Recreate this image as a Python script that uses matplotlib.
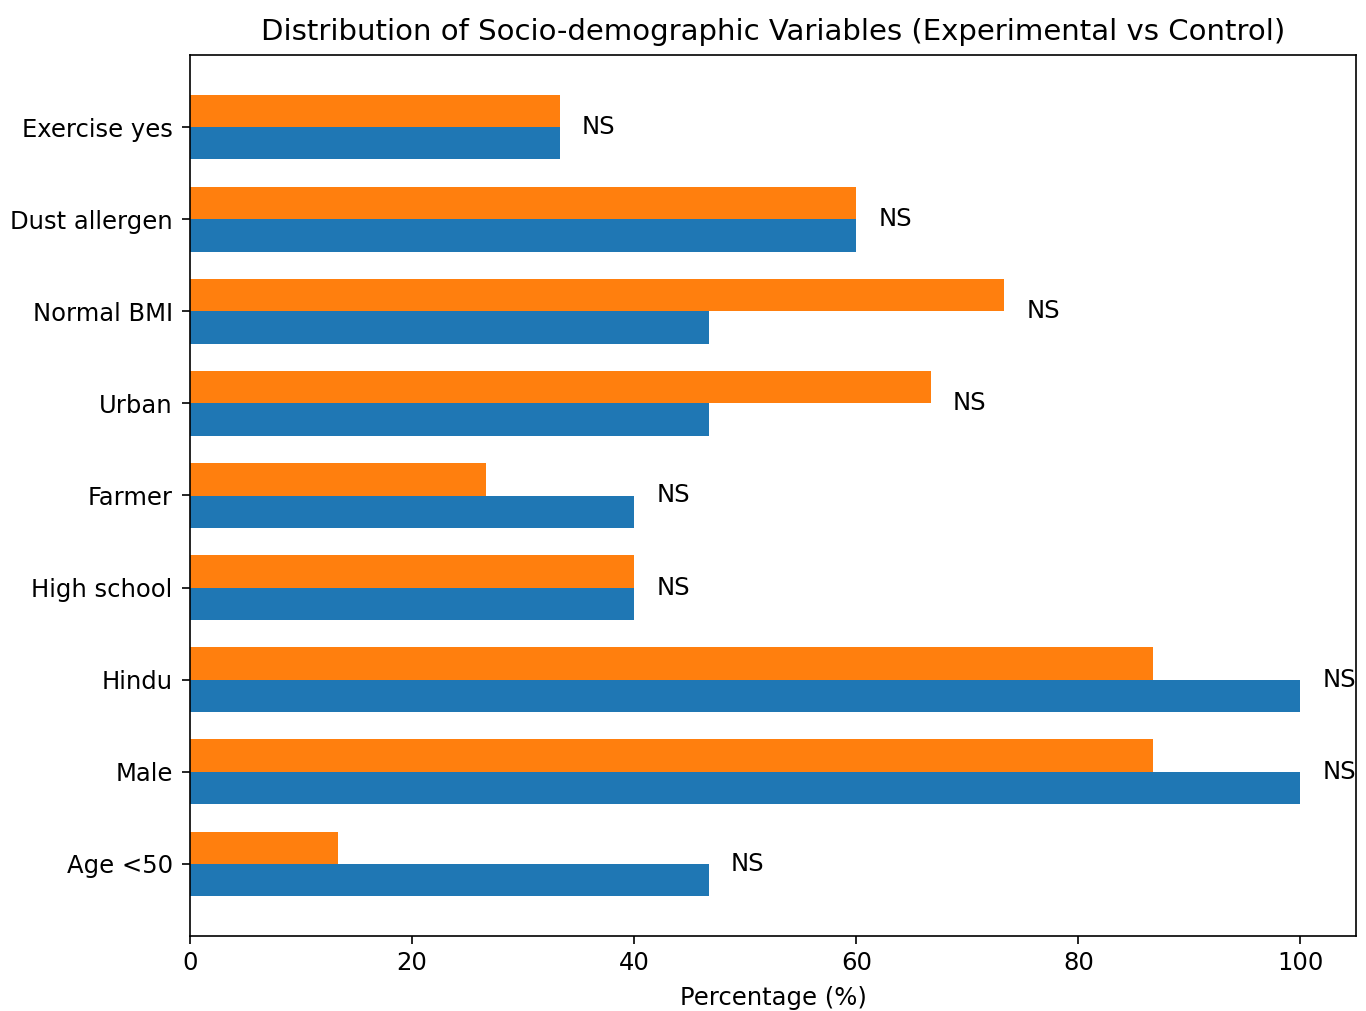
import numpy as np
import matplotlib
matplotlib.use("Agg")
import matplotlib.pyplot as plt

# socio-demographic variables, bottom to top
categories = ["Age <50", "Male", "Hindu", "High school", "Farmer",
              "Urban", "Normal BMI", "Dust allergen", "Exercise yes"]
experimental = [46.7, 100.0, 100.0, 40.0, 40.0, 46.7, 46.7, 60.0, 33.3]
control = [13.3, 86.7, 86.7, 40.0, 26.7, 66.7, 73.3, 60.0, 33.3]
significance = ["NS"] * len(categories)

fs = 17.5
fig = plt.figure(figsize=(13.66, 10.11), dpi=100)
ax = fig.add_axes([190 / 1366, 1 - 936 / 1011, 1166 / 1366, 881 / 1011])

y = np.arange(len(categories))
h = 0.35
ax.barh(y - h / 2, experimental, h, color="#1f77b4", label="Experimental")
ax.barh(y + h / 2, control, h, color="#ff7f0e", label="Control")

for i, lab in enumerate(significance):
    top = max(experimental[i], control[i])
    ax.text(top + 2, y[i], lab, va="center", ha="left", fontsize=fs)

ax.set_yticks(y)
ax.set_yticklabels(categories, fontsize=fs)
ax.tick_params(axis="x", labelsize=fs)
ax.tick_params(length=6, width=1.2, pad=5)
ax.tick_params(axis="y", pad=6.5)
for sp in ax.spines.values():
    sp.set_linewidth(1.2)
ax.set_xlabel("Percentage (%)", fontsize=fs, labelpad=8)
ax.set_title("Distribution of Socio-demographic Variables (Experimental vs Control)",
             fontsize=21, pad=11)

fig.savefig("out.png", dpi=100)
